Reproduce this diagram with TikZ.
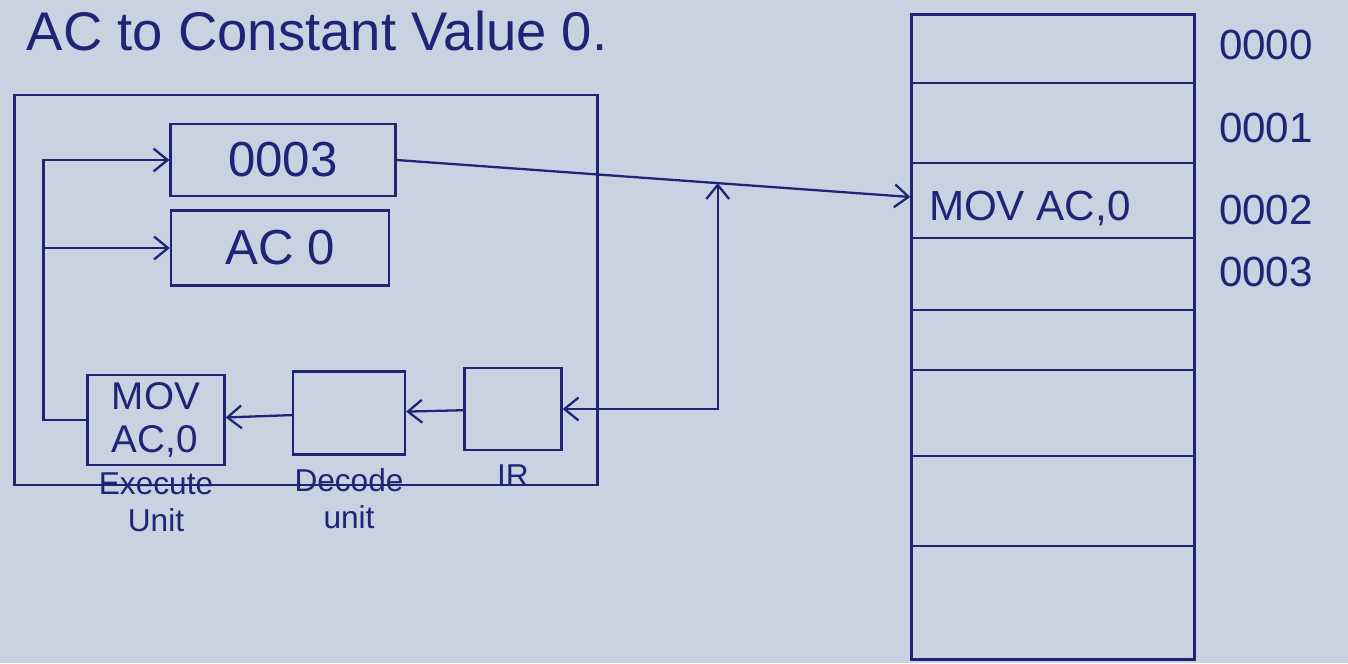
\documentclass[tikz,border=0pt]{standalone}
\usepackage{fontspec}
\setmainfont{Liberation Sans}
\usetikzlibrary{arrows.meta,positioning}
\definecolor{paper}{RGB}{200,211,226}
\definecolor{ink}{RGB}{32,36,118}

\begin{document}
\begin{tikzpicture}[
    x=0.02cm, y=-0.02cm, color=ink, line width=1.3pt,
    >={Straight Barb[length=8pt,width=13pt]},
    reg/.style={rectangle, draw, minimum height=1.45cm, font=\fontsize{28}{30}\selectfont},
    unit/.style={rectangle, draw, font=\fontsize{22}{24}\selectfont, align=left},
    note/.style={font=\fontsize{18}{21}\selectfont, align=center, inner sep=0pt},
    addr/.style={font=\fontsize{24}{26}\selectfont, anchor=west}
]
\fill[paper] (0,0) rectangle (1348,663);
\useasboundingbox (0,0) rectangle (1348,663);

\node (title) [anchor=base west, font=\fontsize{31}{33}\selectfont] at (20,50) {AC to Constant Value 0.};

% processor
\node (cpu) [draw, minimum width=11.66cm, minimum height=7.8cm] at (306,290) {};
\node (pc) [reg, minimum width=4.5cm] at (283,160) {0003};
\node (ac) [reg, minimum width=4.36cm, minimum height=1.5cm] at (280,248) {AC 0};
\node (exec) [unit, minimum width=2.74cm, minimum height=1.8cm] at (156,420) {MOV\\AC,0};
\node (dec) [unit, minimum width=2.24cm, minimum height=1.66cm] at (349,413) {};
\node (ir) [unit, minimum width=1.94cm, minimum height=1.64cm] at (513,409) {};
\node (execlbl) [note, below=3pt of exec] {Execute\\Unit};
\node (declbl) [note, below=7pt of dec] {Decode\\unit};
\node (irlbl) [note, below=7pt of ir] {IR};

% memory
\node (mem) [draw, minimum width=5.66cm, minimum height=12.9cm] at (1053,337) {};
\foreach \y in {83,163,238,310,370,456,546}
    \draw (mem.west |- 0,\y) -- (mem.east |- 0,\y);
\node (slot) [anchor=west, font=\fontsize{24}{26}\selectfont] at (922,208) {MOV AC,0};
\foreach \a/\y in {0000/45,0001/128,0002/210,0003/272}
    \node (a\a) [addr] at (1212,\y) {\a};
\coordinate (slot2) at (mem.west |- 0,197);

% connectors
\draw[->] (pc.east) -- coordinate[pos=0.625] (tap) (slot2);
\draw[<->] (ir.east) -| (tap);
\draw[->] (ir) -- (dec);
\draw[->] (dec) -- (exec);
\draw[->] (exec.west) -- ++(-43,0) coordinate (fb) |- (pc.west);
\draw[->] (fb |- ac.west) -- (ac.west);
\end{tikzpicture}
\end{document}
